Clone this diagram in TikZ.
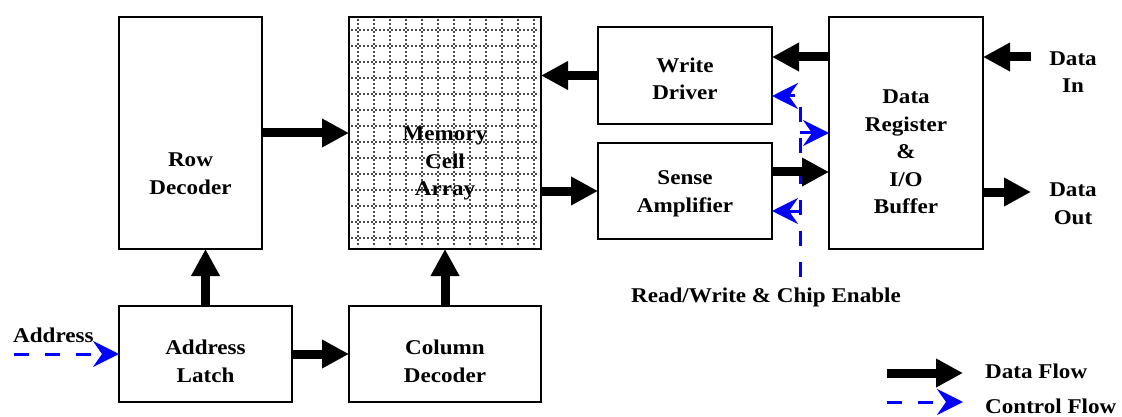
\documentclass[tikz,border=0pt]{standalone}
\usepackage{fontspec}
\setmainfont{Liberation Serif}[FakeStretch=1.1]
\usetikzlibrary{arrows.meta}
\begin{document}
\begin{tikzpicture}[x=1pt,y=-1pt,
  box/.style={draw, line width=2.2pt, rectangle, inner sep=0pt, outer sep=0pt},
  lbl/.style={align=center, inner sep=0pt, font=\fontsize{21}{27.5}\selectfont\bfseries},
  txt/.style={inner sep=0pt, font=\fontsize{21}{27.5}\selectfont\bfseries},
  data/.style={line width=9pt, -{Triangle[length=27pt,width=27pt]}},
  ctrl/.style={blue, line width=3pt, dash pattern=on 15pt off 16pt,
               -{Stealth[length=26pt,width=26pt,inset=9pt]}},
  cell/.style={black!70, line width=1.8pt, dash pattern=on 2pt off 2pt}]
\useasboundingbox (0,0) rectangle (1122,417);

% memory cell grid
\foreach \gx in {358,374,...,534} \draw[cell] (\gx,19) -- (\gx,247);
\foreach \gy in {30,46,...,238} \draw[cell] (351,\gy) -- (539,\gy);

% blocks
\node[box, minimum width=143pt, minimum height=232pt] (row) at (190.5,133) {};
\node[box, minimum width=192pt, minimum height=232pt] (mem) at (445,133) {};
\node[box, minimum width=174pt, minimum height=97pt]  (wd)  at (685,75.5) {};
\node[box, minimum width=174pt, minimum height=96pt]  (sa)  at (685,191) {};
\node[box, minimum width=154pt, minimum height=232pt] (dr)  at (906,133) {};
\node[box, minimum width=173pt, minimum height=96pt]  (al)  at (205.5,354) {};
\node[box, minimum width=192pt, minimum height=96pt]  (cd)  at (445,354) {};

% block labels
\node[lbl] (rowt) at (190.5,173.5) {Row\\Decoder};
\node[lbl] (memt) at (445,163.5) {Memory\\Cell\\Array};
\node[lbl] (wdt)  at (685,79) {Write\\Driver};
\node[lbl] (sat)  at (685,194) {Sense\\Amplifier};
\node[lbl] (drt)  at (906,152) {Data\\Register\\\&\\I/O\\Buffer};
\node[lbl] (alt)  at (205.5,361.5) {Address\\Latch};
\node[lbl] (cdt)  at (445,361.5) {Column\\Decoder};

% outer labels
\node[lbl] (dint)  at (1073,72) {Data\\In};
\node[lbl] (doutt) at (1073,204) {Data\\Out};
\node[txt, anchor=base west] (addrt) at (13,342) {Address};
\node[txt, anchor=base] (rwt) at (766,302) {Read/Write \& Chip Enable};

% free ends
\coordinate (din)  at (1031,57);
\coordinate (dout) at (1031,192);
\coordinate (addr) at (14,354);
\coordinate (rw)   at (800,277);
\coordinate (rwtop) at (800,96);

% control flow
\draw[ctrl] (addr) -- (al.west);
\draw[ctrl] (rw) -- (rwtop) -- (wd.east |- rwtop);
\draw[ctrl] (rw |- dr.west) -- (dr.west);
\draw[ctrl] (rw |- 0,211) -- (sa.east |- 0,211);

% data flow
\draw[data] (row.east) -- (mem.west);
\draw[data] (mem.east |- sa.west) -- (sa.west);
\draw[data] (wd.west) -- (mem.east |- wd.west);
\draw[data] (dr.west |- 0,57) -- (wd.east |- 0,57);
\draw[data] (sa.east |- 0,172) -- (dr.west |- 0,172);
\draw[data] (din) -- (dr.east |- din);
\draw[data] (dr.east |- dout) -- (dout);
\draw[data] (al.north) -- (al.north |- row.south);
\draw[data] (cd.north) -- (mem.south);
\draw[data] (al.east) -- (cd.west);

% legend
\coordinate (lga) at (887,373);
\coordinate (lgb) at (963,373);
\coordinate (lgc) at (887,402);
\coordinate (lgd) at (963,402);
\draw[data] (lga) -- (lgb);
\draw[ctrl] (lgc) -- (lgd);
\node[txt, anchor=base west] (lgt1) at (985,378) {Data Flow};
\node[txt, anchor=base west] (lgt2) at (985,413) {Control Flow};
\end{tikzpicture}
\end{document}
